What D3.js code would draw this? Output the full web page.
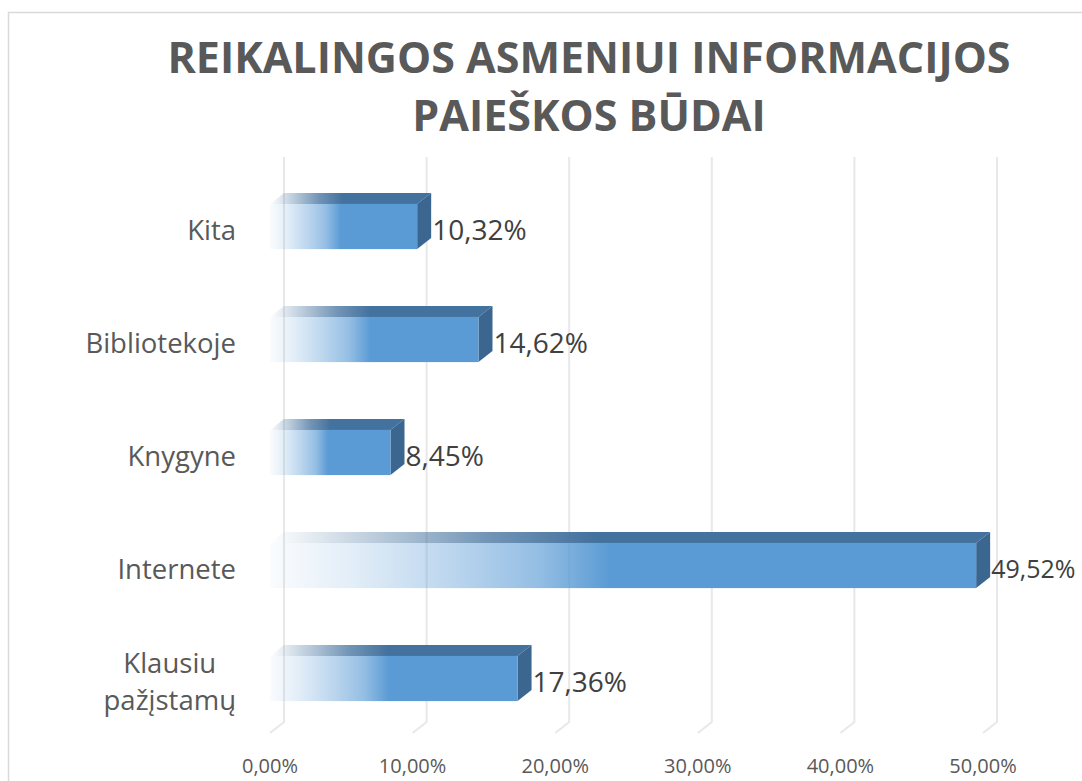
<!DOCTYPE html>
<html>
<head>
<meta charset="utf-8">
<script src="https://cdn.jsdelivr.net/npm/d3@7"></script>
<style>
  html, body { margin: 0; padding: 0; background: #ffffff; }
  svg { display: block; }
</style>
</head>
<body>
<svg id="chart" width="1082" height="781"></svg>
<script>
// ---- data ----
const titleLines = ["REIKALINGOS ASMENIUI INFORMACIJOS", "PAIEŠKOS BŪDAI"];
const categories = ["Klausiu\npažįstamų", "Internete", "Knygyne", "Bibliotekoje", "Kita"];
const values = [17.36, 49.52, 8.45, 14.62, 10.32];
const tickValues = [0, 10, 20, 30, 40, 50];

const fmt = v => d3.format(".2f")(v).replace(".", ",") + "%";

const W = 1082, H = 781;
const svg = d3.select("#chart");
const FONT = "'Open Sans', 'Noto Sans', sans-serif";
const TEXT = "#595959";

// depth offset of the 3D bars (front face shift relative to back wall)
const DX = 14, DY = 11;

const x = d3.scaleLinear().domain([0, 50]).range([284, 997]);
const y = d3.scaleBand().domain(categories.slice().reverse()).range([159, 724])
  .paddingInner(0.6).paddingOuter(0.3);
const gridTop = 157, gridBottom = 722;

// chart border
svg.append("rect").attr("x", 8.5).attr("y", 12.5).attr("width", 1200).attr("height", 900)
  .attr("fill", "#fff").attr("stroke", "#d9d9d9").attr("stroke-width", 1.5);

// gradients
const defs = svg.append("defs");
const gFront = defs.append("linearGradient").attr("id", "gFront").attr("x1", 0).attr("x2", 1).attr("y1", 0).attr("y2", 0);
[[0, 0.03], [0.12, 0.18], [0.25, 0.4], [0.38, 0.65], [0.48, 1], [1, 1]].forEach(([o, a]) =>
  gFront.append("stop").attr("offset", o).attr("stop-color", "#5b9bd5").attr("stop-opacity", a));
const gTop = defs.append("linearGradient").attr("id", "gTop").attr("x1", 0).attr("x2", 1).attr("y1", 0).attr("y2", 0);
[[0, 0.0], [0.12, 0.3], [0.3, 0.75], [0.45, 1], [1, 1]].forEach(([o, a]) =>
  gTop.append("stop").attr("offset", o).attr("stop-color", "#44729e").attr("stop-opacity", a));

// gridlines on back wall + floor
const grid = svg.append("g");
tickValues.forEach(t => {
  const gx = x(t);
  grid.append("path")
    .attr("d", `M${gx},${gridTop}V${gridBottom}L${gx - DX},${gridBottom + DY}`)
    .attr("fill", "none").attr("stroke", "#e8e8e8").attr("stroke-width", 2);
});

// bars
const bw = y.bandwidth();
const bars = svg.append("g").selectAll("g").data(categories).join("g");
bars.each(function (c, i) {
  const g = d3.select(this);
  const v = values[i];
  const x0 = x(0) - DX, x1 = x(v) - DX;
  const y0 = y(c) + DY, y1 = y0 + bw;
  // top face
  g.append("path")
    .attr("d", `M${x0},${y0}L${x1},${y0}L${x1 + DX},${y0 - DY}L${x0 + DX},${y0 - DY}Z`)
    .attr("fill", "url(#gTop)");
  // side face
  g.append("path")
    .attr("d", `M${x1},${y0}L${x1 + DX},${y0 - DY}L${x1 + DX},${y1 - DY}L${x1},${y1}Z`)
    .attr("fill", "#3a6690");
  // front face
  g.append("rect").attr("x", x0).attr("y", y0).attr("width", x1 - x0).attr("height", bw)
    .attr("fill", "url(#gFront)");
  // data label (shrunk only if it would run past the right edge)
  const lx = x(v) + 1;
  const fs = 28;
  const lbl = g.append("text").attr("x", lx).attr("y", y0 + bw / 2 + 2)
    .attr("dominant-baseline", "central")
    .attr("font-family", FONT).attr("font-size", fs).attr("fill", "#404040")
    .text(fmt(v));
  const len = lbl.node().getComputedTextLength();
  const avail = W - 5 - lx;
  if (len > avail) lbl.attr("font-size", Math.floor(fs * avail / len));
});

// category labels
const catG = svg.append("g");
categories.forEach(c => {
  const lines = c.split("\n");
  const cy = y(c) + DY + bw / 2 + 2;
  const lh = 37;
  const t = catG.append("text")
    .attr("font-family", FONT).attr("font-size", 27.5).attr("fill", TEXT)
    .attr("dominant-baseline", "central");
  const tspans = lines.map((l, k) => t.append("tspan").text(l)
    .attr("y", cy + (k - (lines.length - 1) / 2) * lh));
  // measure widest line, center lines, right-align block
  const widths = tspans.map(s => s.node().getComputedTextLength());
  const maxW = d3.max(widths);
  const right = 236;
  tspans.forEach(s => s.attr("x", right - maxW / 2).attr("text-anchor", "middle"));
});

// x tick labels (on front floor edge)
svg.append("g").selectAll("text").data(tickValues).join("text")
  .attr("x", d => x(d) - DX).attr("y", 765)
  .attr("text-anchor", "middle").attr("dominant-baseline", "central")
  .attr("font-family", FONT).attr("font-size", 20).attr("fill", TEXT)
  .text(d => fmt(d));

// title
svg.append("g").selectAll("text").data(titleLines).join("text")
  .attr("x", 589).attr("y", (d, i) => 73 + i * 58)
  .attr("text-anchor", "middle")
  .attr("font-family", FONT).attr("font-weight", "bold").attr("font-size", 43)
  .attr("fill", TEXT)
  .text(d => d);
</script>
</body>
</html>
